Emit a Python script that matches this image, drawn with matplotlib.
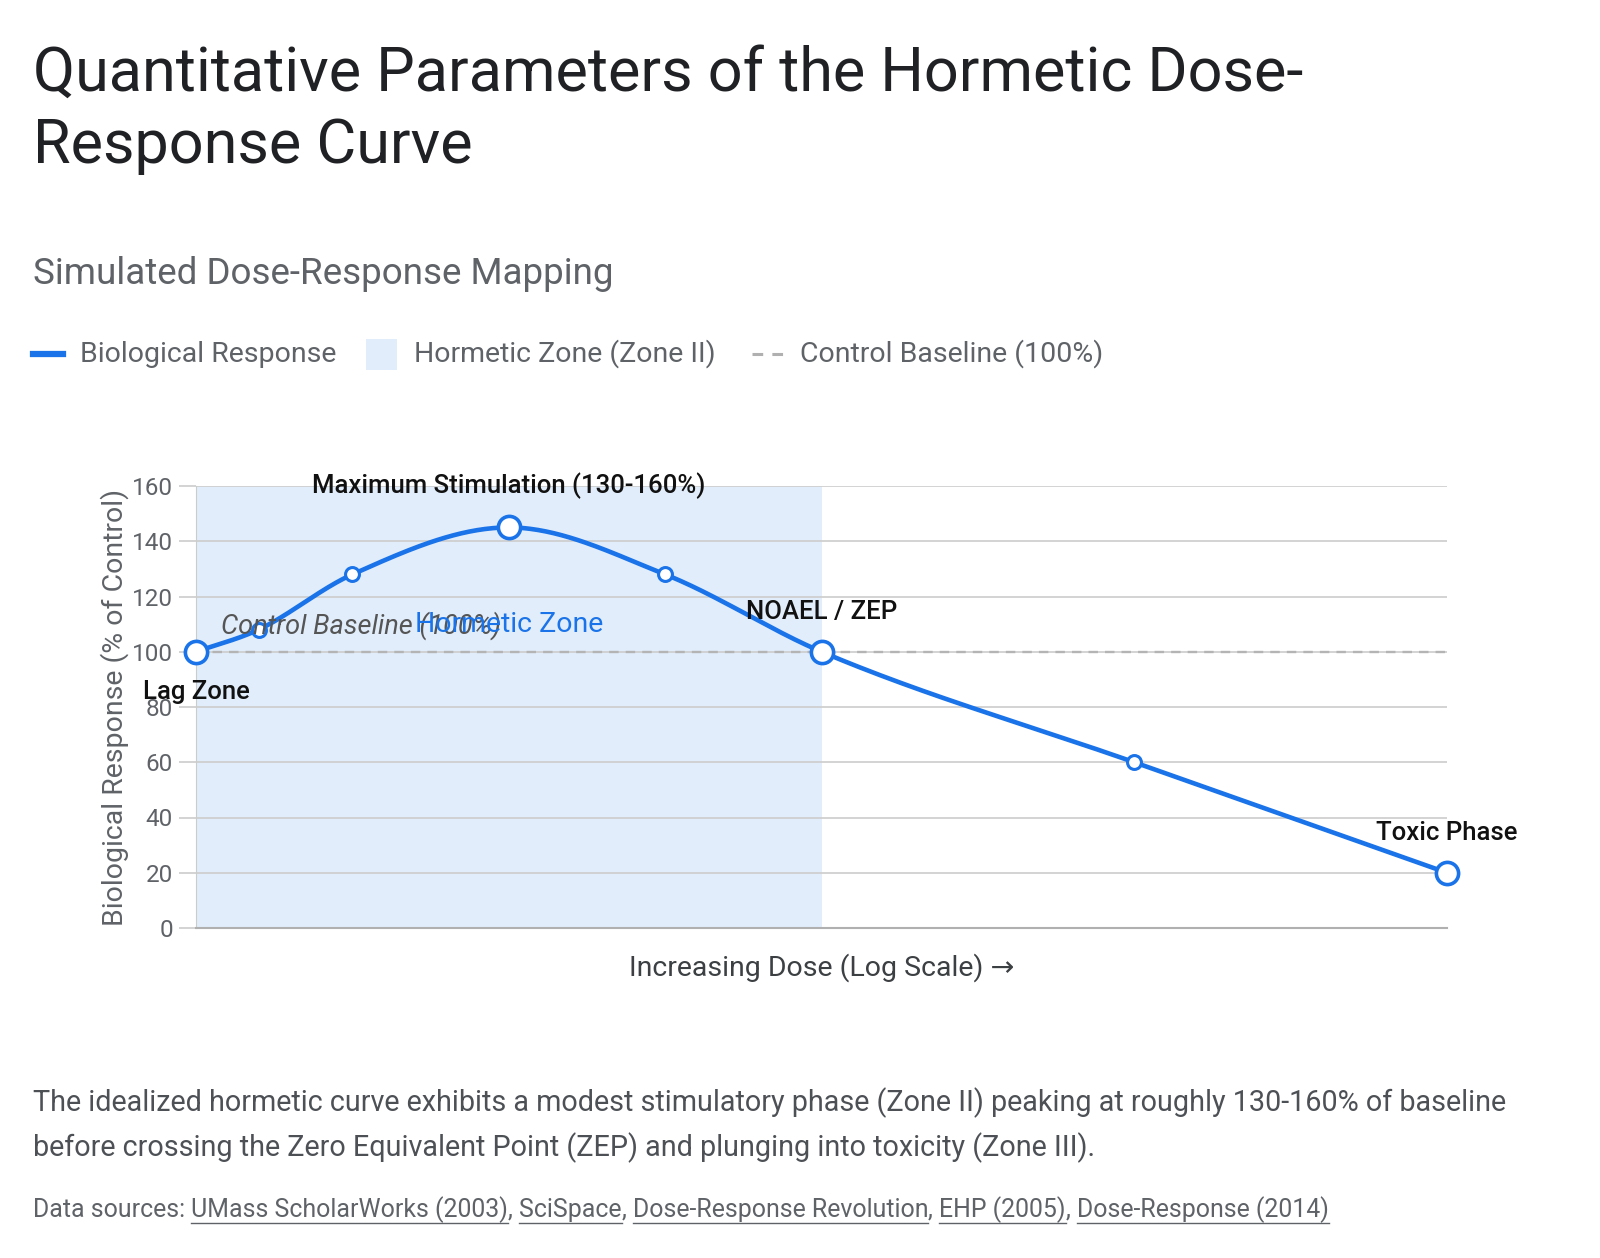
import numpy as np
import matplotlib
matplotlib.use("Agg")
import matplotlib.pyplot as plt
from matplotlib.patches import Rectangle
from matplotlib.lines import Line2D

plt.rcParams['font.family'] = ['Roboto', 'DejaVu Sans']

# ---------------- data ----------------
dose = [0.0, 0.2, 0.5, 1.0, 1.5, 2.0, 3.0, 4.0]
response = [100, 108, 128, 145, 128, 100, 60, 20]
big_points = [0, 3, 5, 7]
hormetic_zone = (0.0, 2.0)
baseline = 100
y_ticks = [0, 20, 40, 60, 80, 100, 120, 140, 160]

title = "Quantitative Parameters of the Hormetic Dose-\nResponse Curve"
subtitle = "Simulated Dose-Response Mapping"
legend_labels = ["Biological Response", "Hormetic Zone (Zone II)", "Control Baseline (100%)"]
y_label = "Biological Response (% of Control)"
x_label = "Increasing Dose (Log Scale) \u2192"
caption = ("The idealized hormetic curve exhibits a modest stimulatory phase (Zone II) peaking at roughly 130-160% of baseline\n"
           "before crossing the Zero Equivalent Point (ZEP) and plunging into toxicity (Zone III).")
sources = ["UMass ScholarWorks (2003)", "SciSpace", "Dose-Response Revolution", "EHP (2005)", "Dose-Response (2014)"]

BLUE = "#1a73e8"
ZONE = "#e1edfb"
GRAY = "#5f6368"
GRID = "#cccccc"

W, H = 1600, 1258
fig = plt.figure(figsize=(W / 100, H / 100), dpi=100)
fig.patch.set_facecolor("white")

def fx(x):
    return x / W

def fy(y):
    return 1 - y / H

# ------------- monotone cubic (Fritsch-Carlson) -------------
def monotone(xs, ys, n=60):
    xs = np.asarray(xs, float); ys = np.asarray(ys, float)
    d = np.diff(ys) / np.diff(xs)
    m = np.zeros_like(ys)
    m[0], m[-1] = d[0], d[-1]
    for k in range(1, len(xs) - 1):
        if d[k - 1] * d[k] <= 0:
            m[k] = 0
        else:
            m[k] = (d[k - 1] + d[k]) / 2
    for k in range(len(d)):
        if d[k] == 0:
            m[k] = m[k + 1] = 0
            continue
        a, b = m[k] / d[k], m[k + 1] / d[k]
        s = a * a + b * b
        if s > 9:
            t = 3 / np.sqrt(s)
            m[k] = t * a * d[k]; m[k + 1] = t * b * d[k]
    X, Y = [], []
    for k in range(len(d)):
        h = xs[k + 1] - xs[k]
        t = np.linspace(0, 1, n)
        h00 = 2 * t**3 - 3 * t**2 + 1
        h10 = t**3 - 2 * t**2 + t
        h01 = -2 * t**3 + 3 * t**2
        h11 = t**3 - t**2
        X.append(xs[k] + t * h)
        Y.append(h00 * ys[k] + h10 * h * m[k] + h01 * ys[k + 1] + h11 * h * m[k + 1])
    return np.concatenate(X), np.concatenate(Y)

# ---------------- axes ----------------
ax = fig.add_axes([fx(196), fy(928), fx(1447) - fx(196), fy(486) - fy(928)])
ax.set_xlim(0, 4)
ax.set_ylim(0, 160)
ax.set_yticks(y_ticks)
ax.set_xticks([])
ax.tick_params(axis='y', length=12.5, color=GRID, width=1.2, labelsize=17.5, labelcolor=GRAY, pad=4)
ax.grid(axis='y', color=GRID, linewidth=1.2)
ax.set_axisbelow(True)
for s in ["top", "right"]:
    ax.spines[s].set_visible(False)
ax.spines["left"].set_color(GRID)
ax.spines["bottom"].set_color("#b0b0b0")
ax.spines["bottom"].set_linewidth(1.5)

ax.add_patch(Rectangle((hormetic_zone[0], 0), hormetic_zone[1] - hormetic_zone[0], 160,
                       facecolor=ZONE, edgecolor="none", zorder=0))
ax.axhline(baseline, color="#b4b4b4", linestyle=(0, (4, 3)), linewidth=1.7, zorder=1)

cx, cy = monotone(dose, response)
ax.plot(cx, cy, color=BLUE, linewidth=3.3, zorder=3, solid_capstyle='round', clip_on=False)
small = [i for i in range(len(dose)) if i not in big_points]
ax.plot([dose[i] for i in small], [response[i] for i in small], 'o', ms=10, mfc='white',
        mec=BLUE, mew=2.2, zorder=4, clip_on=False)
ax.plot([dose[i] for i in big_points], [response[i] for i in big_points], 'o', ms=16, mfc='white',
        mec=BLUE, mew=2.6, zorder=4, clip_on=False)

ax.set_ylabel(y_label, fontsize=20.5, color=GRAY, labelpad=2)
ax.set_xlabel(x_label, fontsize=20.5, color="#3c4043", labelpad=18)

# annotations
ann = dict(fontsize=18.5, color="#111111", fontweight='medium', zorder=6)
ax.text(dose[3], 160, "Maximum Stimulation (130-160%)", ha='center', va='center', **ann)
ax.text(dose[5], 114.5, "NOAEL / ZEP", ha='center', va='center', **ann)
ax.text(dose[7], 34.5, "Toxic Phase", ha='center', va='center', **ann)
ax.text(dose[0], 85.5, "Lag Zone", ha='center', va='center', **ann)
ax.text(0.08, 109.5, "Control Baseline (100%)", ha='left', va='center', fontsize=19.5,
        style='italic', color="#555555", zorder=6)
ax.text(1.0, 110, "Hormetic Zone", ha='center', va='center', fontsize=20.5, color=BLUE, zorder=6)

# ---------------- titles ----------------
fig.text(fx(33), fy(110), title, fontsize=44, color="#202124", ha='left', va='center',
         linespacing=1.32)
fig.text(fx(33), fy(274), subtitle, fontsize=26.5, color=GRAY, ha='left', va='center')

# ---------------- legend ----------------
ly = fy(354)
fig.add_artist(Line2D([fx(33), fx(63)], [ly, ly], color=BLUE, linewidth=4.5))
fig.text(fx(80), ly, legend_labels[0], fontsize=20.5, color=GRAY, va='center')
fig.add_artist(Rectangle((fx(366), fy(370)), fx(31), fy(339) - fy(370), facecolor=ZONE,
                         edgecolor='none'))
fig.text(fx(414), ly, legend_labels[1], fontsize=20.5, color=GRAY, va='center')
fig.add_artist(Line2D([fx(752), fx(784)], [ly, ly], color="#b0b0b0", linewidth=2.2,
                      linestyle=(0, (3.5, 3))))
fig.text(fx(800), ly, legend_labels[2], fontsize=20.5, color=GRAY, va='center')

# ---------------- caption ----------------
fig.text(fx(33), fy(1125), caption, fontsize=20.7, color="#4d5156", ha='left', va='center',
         linespacing=1.6)

# sources with underlined links
fig.canvas.draw()
renderer = fig.canvas.get_renderer()
sy = fy(1210)
x = fx(33)
fs = 17.9
t = fig.text(x, sy, "Data sources: ", fontsize=fs, color=GRAY, va='center')
x += t.get_window_extent(renderer).width / W
for i, s in enumerate(sources):
    t = fig.text(x, sy, s, fontsize=fs, color=GRAY, va='center')
    w = t.get_window_extent(renderer).width / W
    fig.add_artist(Line2D([x, x + w], [fy(1223), fy(1223)], color=GRAY, linewidth=1))
    x += w
    if i < len(sources) - 1:
        t = fig.text(x, sy, ", ", fontsize=fs, color=GRAY, va='center')
        x += t.get_window_extent(renderer).width / W

fig.savefig("out.png", dpi=100, facecolor="white")
